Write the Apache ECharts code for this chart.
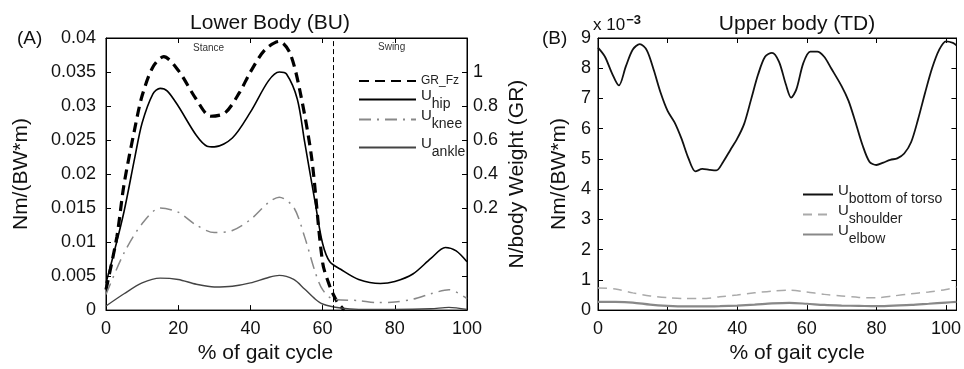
<!DOCTYPE html>
<html>
<head>
<meta charset="utf-8">
<script src="https://cdn.jsdelivr.net/npm/echarts@6/dist/echarts.min.js"></script>
<style>
  html, body { margin: 0; padding: 0; background: #fff; }
  #chart { width: 964px; height: 369px; }
</style>
</head>
<body>
<div id="chart"></div>
<script>
// % of gait cycle samples and values
const hipX = [0, 2, 5, 8, 10, 13, 15, 17, 20, 25, 28, 30, 35, 40, 45, 48, 50, 53, 55, 58, 60, 62, 65, 70, 76, 80, 85, 90, 94, 97, 100];
const hipY = [0.004, 0.008, 0.0145, 0.0225, 0.0275, 0.0318, 0.0326, 0.0322, 0.030, 0.0257, 0.0241, 0.024, 0.0253, 0.0291, 0.0337, 0.035, 0.0347, 0.031, 0.0248, 0.0156, 0.0098, 0.0071, 0.006, 0.0045, 0.0039, 0.0042, 0.0053, 0.0076, 0.0092, 0.0087, 0.0071];

const kneeX = [0, 5, 10, 15, 20, 25, 30, 35, 40, 45, 48, 52, 55, 58, 60, 63, 70, 75, 80, 85, 90, 95, 100];
const kneeY = [0.0023, 0.0084, 0.0127, 0.015, 0.0144, 0.0125, 0.0114, 0.0117, 0.0133, 0.0158, 0.0166, 0.0151, 0.0108, 0.0055, 0.003, 0.0016, 0.0014, 0.0011, 0.0012, 0.0016, 0.0024, 0.003, 0.0017];

const ankleX = [0, 5, 10, 15, 20, 25, 30, 35, 40, 45, 48, 52, 55, 58, 60, 65, 70, 80, 90, 95, 100];
const ankleY = [0.0006, 0.0024, 0.004, 0.0047, 0.0045, 0.0038, 0.0034, 0.0035, 0.004, 0.0048, 0.0051, 0.0045, 0.0031, 0.0016, 0.0009, 0.0003, 0.0001, 0.0001, 0.0002, 0.0004, 0.0001];

// ground reaction, N / body weight (right axis)
const grX = [0, 3, 5, 8, 10, 13, 16, 20, 25, 29, 33, 37, 40, 44, 48, 51, 54, 57, 60, 62, 64, 66];
const grY = [-0.28, 0.03, 0.34, 0.67, 0.86, 1.03, 1.09, 1.01, 0.84, 0.74, 0.76, 0.88, 1.0, 1.13, 1.18, 1.11, 0.86, 0.49, -0.12, -0.26, -0.35, -0.4];

// upper body, units of 1e-3 Nm/(BW*m)
const torsoX = [0, 2, 4, 6, 8, 10, 12, 14, 16, 18, 20, 22, 24, 26, 28, 30, 32, 34, 36, 38, 40, 42, 44, 46, 48, 50, 52, 54, 55.5, 57, 59, 61, 63, 65, 67, 70, 72, 74, 76, 78, 80, 82, 84, 86, 88, 90, 92, 94, 96, 98, 100, 102, 103];
const torsoY = [8.68, 8.38, 7.84, 7.43, 8.06, 8.62, 8.8, 8.6, 7.95, 7.19, 6.59, 6.21, 5.67, 5.02, 4.59, 4.67, 4.64, 4.62, 4.91, 5.29, 5.67, 6.16, 6.97, 7.79, 8.38, 8.51, 8.22, 7.46, 7.03, 7.3, 8.17, 8.55, 8.55, 8.38, 8.0, 7.41, 6.92, 6.21, 5.46, 4.91, 4.8, 4.88, 4.97, 5.02, 5.18, 5.56, 6.32, 7.19, 8.0, 8.6, 8.89, 8.84, 8.76];

const armX = [0, 5, 10, 15, 20, 25, 30, 35, 40, 45, 50, 55, 60, 65, 70, 75, 80, 85, 90, 95, 100, 103];
const shoulderY = [0.73, 0.7, 0.57, 0.47, 0.41, 0.38, 0.38, 0.44, 0.5, 0.57, 0.63, 0.66, 0.6, 0.52, 0.47, 0.42, 0.41, 0.47, 0.54, 0.6, 0.68, 0.77];
const elbowY = [0.27, 0.27, 0.25, 0.18, 0.14, 0.12, 0.12, 0.13, 0.15, 0.18, 0.22, 0.24, 0.21, 0.17, 0.15, 0.14, 0.13, 0.15, 0.17, 0.21, 0.25, 0.27];

const swingStart = 63;

const pairs = (xs, ys) => xs.map((x, i) => [x, ys[i]]);

const FONT = "'Liberation Sans', Arial, sans-serif";
const subRich = {
  u: { fontFamily: FONT, fontSize: 15, color: '#222', lineHeight: 22, verticalAlign: 'top' },
  s: { fontFamily: FONT, fontSize: 14, color: '#222', lineHeight: 22, padding: [9, 0, 0, 0] }
};

const chart = echarts.init(document.getElementById('chart'));

const tickIn = { show: true, inside: true, length: 5, lineStyle: { color: '#000' } };
const axLine = { show: true, onZero: false, lineStyle: { color: '#000', width: 1 } };
const lbl = { color: '#111', fontFamily: FONT, fontSize: 18 };
const nameStyle = { fontFamily: FONT, fontSize: 21, color: '#111' };

function legendFor(name, top, label, itemWidth, left) {
  return {
    data: [name],
    left: left,
    top: top,
    itemWidth: itemWidth,
    itemHeight: 10,
    itemGap: 0,
    itemStyle: { color: 'transparent', borderColor: 'transparent', borderWidth: 0 },
    formatter: () => label,
    textStyle: { rich: subRich, fontFamily: FONT, fontSize: 12, color: '#222' }
  };
}

chart.setOption({
  animation: false,
  title: [
    { text: 'Lower Body (BU)', left: 265, top: 8, textAlign: 'center', textStyle: { fontFamily: FONT, fontSize: 21, fontWeight: 'normal', color: '#111' } },
    { text: 'Upper body (TD)', left: 792, top: 9, textAlign: 'center', textStyle: { fontFamily: FONT, fontSize: 21, fontWeight: 'normal', color: '#111' } },
    { text: '(A)', left: 12, top: 24, textStyle: { fontFamily: FONT, fontSize: 19, fontWeight: 'normal', color: '#111' } },
    { text: '(B)', left: 537, top: 24, textStyle: { fontFamily: FONT, fontSize: 19, fontWeight: 'normal', color: '#111' } }
  ],
  graphic: [
    { type: 'text', left: 193, top: 43, style: { text: 'Stance', fontFamily: FONT, fontSize: 10, fill: '#333' } },
    { type: 'text', left: 378, top: 42, style: { text: 'Swing', fontFamily: FONT, fontSize: 10, fill: '#333' } },
    { type: 'text', left: 593, top: 14, style: {
      text: '{a|x 10}{b|\u22123}',
      rich: {
        a: { fontFamily: FONT, fontSize: 17, fill: '#111', color: '#111', verticalAlign: 'bottom', lineHeight: 20 },
        b: { fontFamily: FONT, fontSize: 13, fontWeight: 'bold', fill: '#111', color: '#111', verticalAlign: 'top', lineHeight: 20, padding: [0, 0, 8, 1] }
      }
    } }
  ],
  legend: [
    legendFor('GR_Fz', 70, 'GR_Fz', 57, 353),
    legendFor('hip', 83, '{u|U}{s|hip}', 57, 353),
    legendFor('knee', 103, '{u|U}{s|knee}', 57, 353),
    legendFor('ankle', 131, '{u|U}{s|ankle}', 57, 353),
    legendFor('torso', 178, '{u|U}{s|bottom of torso}', 30, 797),
    legendFor('shoulder', 198, '{u|U}{s|shoulder}', 30, 797),
    legendFor('elbow', 218, '{u|U}{s|elbow}', 30, 797)
  ],
  grid: [
    { left: 106, right: 497, top: 38, bottom: 55, show: true, borderColor: '#000', borderWidth: 1 },
    { left: 598, right: 1, top: 38, bottom: 55, show: true, borderColor: '#000', borderWidth: 1 }
  ],
  xAxis: [
    {
      gridIndex: 0, type: 'value', min: 0, max: 100, interval: 20,
      name: '% of gait cycle', nameLocation: 'middle', nameGap: 31,
      nameTextStyle: Object.assign({ padding: [0, 42, 0, 0] }, nameStyle),
      axisLine: axLine, axisTick: tickIn, splitLine: { show: false },
      axisLabel: Object.assign({ margin: 10, showMaxLabel: true }, lbl)
    },
    {
      gridIndex: 0, type: 'value', min: 0, max: 100, interval: 20, position: 'top',
      axisLine: axLine, axisTick: tickIn, axisLabel: { show: false }, splitLine: { show: false }
    },
    {
      gridIndex: 1, type: 'value', min: 0, max: 103, interval: 20,
      name: '% of gait cycle', nameLocation: 'middle', nameGap: 31,
      nameTextStyle: Object.assign({ padding: [0, 0, 0, 40] }, nameStyle),
      axisLine: axLine, axisTick: tickIn, splitLine: { show: false },
      axisLabel: Object.assign({ margin: 10, showMaxLabel: false }, lbl)
    },
    {
      gridIndex: 1, type: 'value', min: 0, max: 103, interval: 20, position: 'top',
      axisLine: axLine, axisTick: tickIn, axisLabel: { show: false }, splitLine: { show: false }
    }
  ],
  yAxis: [
    {
      gridIndex: 0, type: 'value', min: 0, max: 0.04, interval: 0.005,
      name: 'Nm/(BW*m)', nameLocation: 'middle', nameGap: 74, nameRotate: 90,
      nameTextStyle: nameStyle,
      axisLine: axLine, axisTick: tickIn, splitLine: { show: false },
      axisLabel: Object.assign({ margin: 10, formatter: (v) => String(+v.toFixed(3)) }, lbl)
    },
    {
      gridIndex: 0, type: 'value', min: -0.4, max: 1.2, interval: 0.2, position: 'right',
      name: 'N/body Weight (GR)', nameLocation: 'middle', nameGap: 40, nameRotate: 90,
      nameTextStyle: nameStyle,
      axisLine: axLine, axisTick: tickIn, splitLine: { show: false },
      axisLabel: Object.assign({
        margin: 6,
        formatter: (v) => (v > 0.1 && v < 1.05 ? String(+v.toFixed(1)) : '')
      }, lbl)
    },
    {
      gridIndex: 1, type: 'value', min: 0, max: 9, interval: 1,
      name: 'Nm/(BW*m)', nameLocation: 'middle', nameGap: 28, nameRotate: 90,
      nameTextStyle: nameStyle,
      axisLine: axLine, axisTick: tickIn, splitLine: { show: false },
      axisLabel: Object.assign({ margin: 7 }, lbl)
    },
    {
      gridIndex: 1, type: 'value', min: 0, max: 9, interval: 1, position: 'right',
      axisLine: axLine, axisTick: tickIn, axisLabel: { show: false }, splitLine: { show: false }
    }
  ],
  series: [
    {
      name: 'GR_Fz', type: 'line', xAxisIndex: 0, yAxisIndex: 1, smooth: 0.3, symbol: 'none',
      lineStyle: { color: '#000', width: 3.2, type: [10, 6] }, itemStyle: { color: '#000' },
      data: pairs(grX, grY),
      markLine: {
        silent: true, symbol: 'none', label: { show: false },
        lineStyle: { color: '#000', width: 1, type: [5, 3] },
        data: [{ xAxis: swingStart }]
      }
    },
    {
      name: 'hip', type: 'line', xAxisIndex: 0, yAxisIndex: 0, smooth: 0.3, symbol: 'none',
      lineStyle: { color: '#000', width: 1.6 }, itemStyle: { color: '#000' },
      data: pairs(hipX, hipY)
    },
    {
      name: 'knee', type: 'line', xAxisIndex: 0, yAxisIndex: 0, smooth: 0.3, symbol: 'none',
      lineStyle: { color: '#888', width: 1.5, type: [12, 6, 2, 6] }, itemStyle: { color: '#888' },
      data: pairs(kneeX, kneeY)
    },
    {
      name: 'ankle', type: 'line', xAxisIndex: 0, yAxisIndex: 0, smooth: 0.3, symbol: 'none',
      lineStyle: { color: '#444', width: 1.4 }, itemStyle: { color: '#444' },
      data: pairs(ankleX, ankleY)
    },
    {
      name: 'torso', type: 'line', xAxisIndex: 2, yAxisIndex: 2, smooth: 0.3, symbol: 'none',
      lineStyle: { color: '#111', width: 1.8 }, itemStyle: { color: '#111' },
      data: pairs(torsoX, torsoY)
    },
    {
      name: 'shoulder', type: 'line', xAxisIndex: 2, yAxisIndex: 2, smooth: 0.3, symbol: 'none',
      lineStyle: { color: '#aaa', width: 1.5, type: [9, 6] }, itemStyle: { color: '#aaa' },
      data: pairs(armX, shoulderY)
    },
    {
      name: 'elbow', type: 'line', xAxisIndex: 2, yAxisIndex: 2, smooth: 0.3, symbol: 'none',
      lineStyle: { color: '#888', width: 2.2 }, itemStyle: { color: '#888' },
      data: pairs(armX, elbowY)
    }
  ]
});
</script>
</body>
</html>
